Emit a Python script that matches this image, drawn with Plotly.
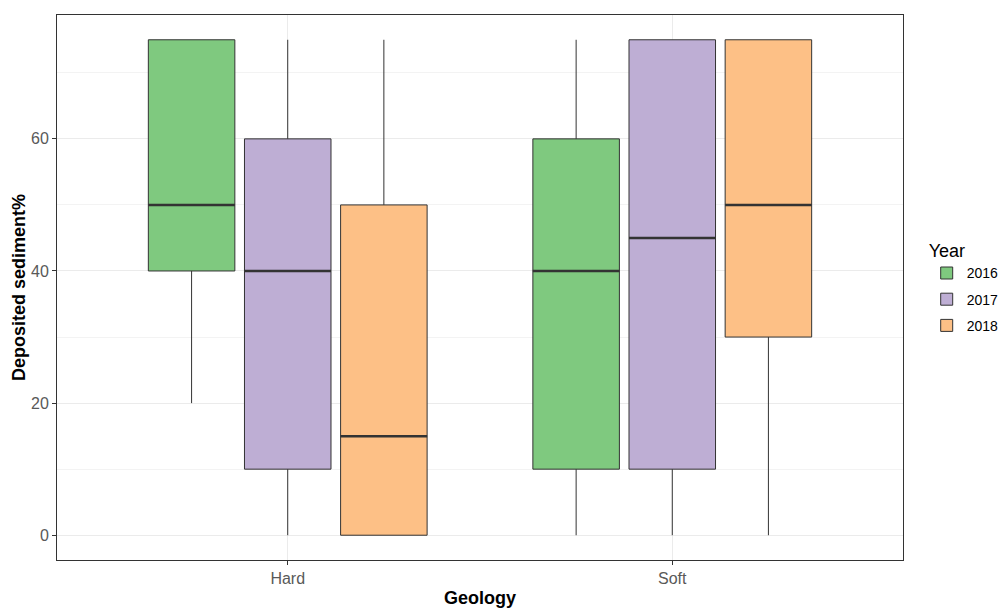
import plotly.graph_objects as go

geology = ["Hard", "Soft"]
years = ["2016", "2017", "2018"]
colors = ["#7FC97F", "#BEAED4", "#FDC086"]

# five-number summaries per year, ordered as geology
lower = {"2016": [20, 0], "2017": [0, 0], "2018": [0, 0]}
q1 = {"2016": [40, 10], "2017": [10, 10], "2018": [0, 30]}
median = {"2016": [50, 40], "2017": [40, 45], "2018": [15, 50]}
q3 = {"2016": [75, 60], "2017": [60, 75], "2018": [50, 75]}
upper = {"2016": [75, 75], "2017": [75, 75], "2018": [75, 75]}

PLOT_L, PLOT_R, PLOT_T, PLOT_B = 57, 97, 15, 48
W, H = 1000, 608
X_RANGE = [-0.6, 1.6]
BOX_GAP, BOX_GROUP_GAP = 0.25, 0.1

# pixel width of one box, used to size the thick median bars
px_per_cat = (W - PLOT_L - PLOT_R) / (X_RANGE[1] - X_RANGE[0])
box_px = px_per_cat * (1 - BOX_GAP) / len(years) * (1 - BOX_GROUP_GAP)
# the "line-ew" symbol spans 1.4 x its marker size
median_size = box_px / 1.4

fig = go.Figure()
for yr, col in zip(years, colors):
    fig.add_trace(go.Box(
        x=geology,
        q1=q1[yr], median=median[yr], q3=q3[yr],
        lowerfence=lower[yr], upperfence=upper[yr],
        name=yr,
        legendgroup=yr,
        offsetgroup=yr,
        fillcolor=col,
        line=dict(color="#333333", width=1),
        whiskerwidth=0,
        boxpoints=False,
        hoverinfo="skip",
    ))
for yr in years:
    # heavier median bar drawn on top of each box
    fig.add_trace(go.Scatter(
        x=geology, y=median[yr],
        mode="markers",
        offsetgroup=yr,
        legendgroup=yr,
        showlegend=False,
        hoverinfo="skip",
        marker=dict(symbol="line-ew", size=median_size,
                    line=dict(color="#333333", width=2.5)),
    ))

fig.update_layout(
    width=W, height=H,
    boxmode="group",
    boxgap=BOX_GAP, boxgroupgap=BOX_GROUP_GAP,
    scattermode="group", scattergap=BOX_GAP,
    paper_bgcolor="white", plot_bgcolor="white",
    margin=dict(l=PLOT_L, r=PLOT_R, t=PLOT_T, b=PLOT_B, autoexpand=False),
    font=dict(family="Liberation Sans, Arial, sans-serif", color="#595959"),
    legend=dict(
        title=dict(text="Year", font=dict(size=18, color="black")),
        font=dict(size=14, color="black"),
        x=1.028, xanchor="left", y=0.5, yanchor="middle",
        tracegroupgap=5,
    ),
    xaxis=dict(
        title=dict(text="<b>Geology</b>", font=dict(size=18, color="black"), standoff=7),
        range=X_RANGE,
        tickfont=dict(size=16, color="#595959"),
        showgrid=True, gridcolor="#EBEBEB", gridwidth=1,
        ticks="outside", ticklen=4, tickcolor="#333333",
        showline=True, linecolor="#333333", linewidth=1, mirror=True,
        zeroline=False,
    ),
    yaxis=dict(
        title=dict(text="<b>Deposited sediment%</b>", font=dict(size=18, color="black"), standoff=0),
        range=[-3.75, 78.75],
        tickvals=[0, 20, 40, 60],
        tickfont=dict(size=16, color="#595959"),
        showgrid=True, gridcolor="#EBEBEB", gridwidth=1,
        minor=dict(tickvals=[10, 30, 50, 70], showgrid=True, gridcolor="#F3F3F3", gridwidth=1),
        ticks="outside", ticklen=4, tickcolor="#333333",
        showline=True, linecolor="#333333", linewidth=1, mirror=True,
        zeroline=False,
    ),
)

fig.write_html("out.html")
